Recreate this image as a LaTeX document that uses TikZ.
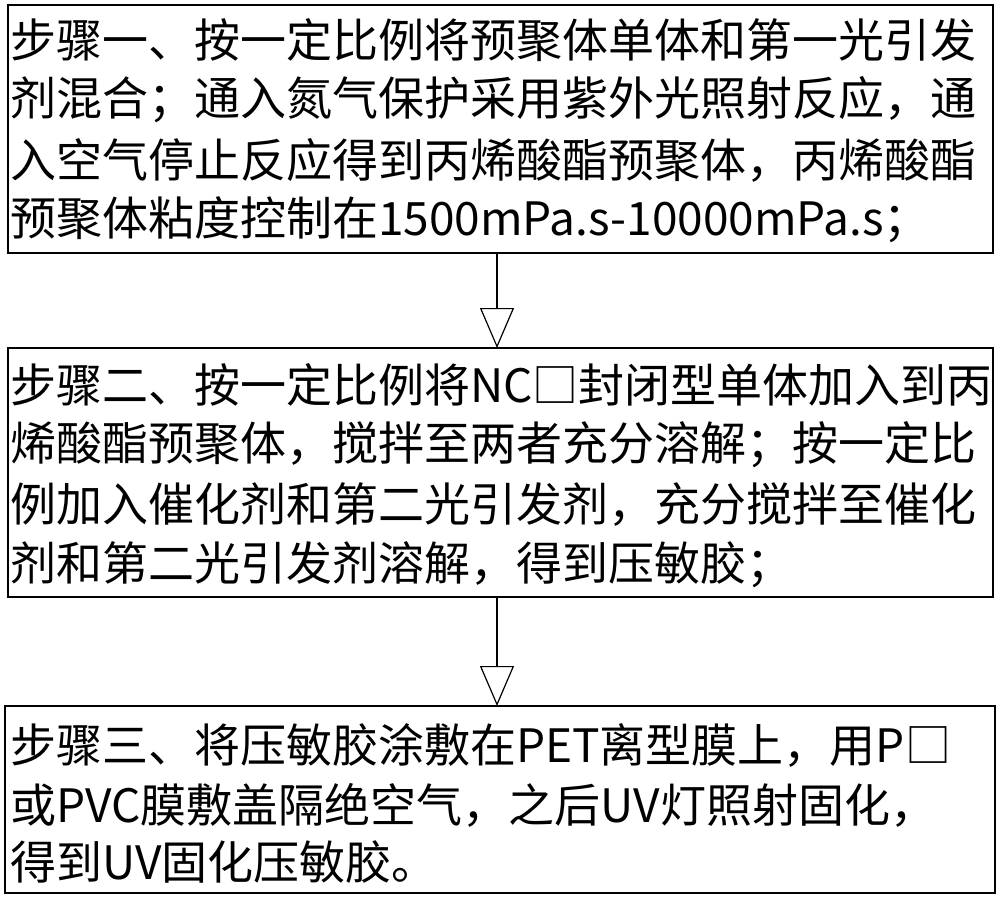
\documentclass[tikz,border=0pt]{standalone}
\usepackage{fontspec}
\newfontfamily\cjk{Noto Sans CJK SC}
\usetikzlibrary{arrows.meta}
\begin{document}
\begin{tikzpicture}[x=1pt,y=-1pt,
  box/.style={draw,line width=1.5pt},
  ln/.style={anchor=west,inner sep=0pt,font=\cjk\fontsize{46}{46}\selectfont},
  flow/.style={line width=1.2pt,-{Triangle[open,length=40pt,width=34pt,line width=1.2pt]}}]
\useasboundingbox (0,0) rectangle (1000,900);
\draw[box] (8,5) rectangle (993,253);
\draw[box] (8,348) rectangle (993,597);
\draw[box] (5,706) rectangle (995,893);
\coordinate (b1) at (497,253); \coordinate (t2) at (497,348);
\coordinate (b2) at (497,597); \coordinate (t3) at (497,706);
\draw[flow] (b1) -- (t2);
\draw[flow] (b2) -- (t3);
\node[ln] (l11) at (10,40) {步骤一、按一定比例将预聚体单体和第一光引发};
\node[ln] (l12) at (10,100) {剂混合；通入氮气保护采用紫外光照射反应，通};
\node[ln] (l13) at (10,160) {入空气停止反应得到丙烯酸酯预聚体，丙烯酸酯};
\node[ln] (l14) at (10,220) {预聚体粘度控制在1500mPa.s-10000mPa.s；};
\node[ln] (l21) at (10,385) {步骤二、按一定比例将NC□封闭型单体加入到丙};
\node[ln] (l22) at (10,445) {烯酸酯预聚体，搅拌至两者充分溶解；按一定比};
\node[ln] (l23) at (10,505) {例加入催化剂和第二光引发剂，充分搅拌至催化};
\node[ln] (l24) at (10,565) {剂和第二光引发剂溶解，得到压敏胶；};
\node[ln] (l31) at (10,745) {步骤三、将压敏胶涂敷在PET离型膜上，用P□};
\node[ln] (l32) at (10,805) {或PVC膜敷盖隔绝空气，之后UV灯照射固化，};
\node[ln] (l33) at (10,862) {得到UV固化压敏胶。};
\end{tikzpicture}
\end{document}
